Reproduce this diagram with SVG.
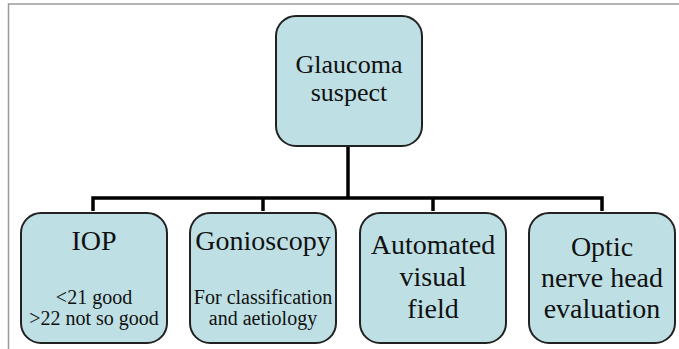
<svg xmlns="http://www.w3.org/2000/svg" width="679" height="349" viewBox="0 0 679 349">
<defs>
<rect id="box" width="146" height="130" rx="20" fill="#bee0e4" stroke="#222" stroke-width="2"/>
</defs>
<rect width="679" height="349" fill="#fff"/>
<path d="M8.5,349 V4 H679" fill="none" stroke="#9a9a9a" stroke-width="1.5"/>
<g id="connectors" fill="none" stroke="#000" stroke-width="3.5">
<path d="M348,146 V198"/>
<path d="M93,211 V198 H602 V211"/>
<path d="M263,198 V211"/>
<path d="M433,198 V211"/>
</g>
<g text-anchor="middle" fill="#111">
<g id="glaucoma-suspect">
<use href="#box" x="276" y="16"/>
<text x="349" y="73" font-family="Liberation Serif" font-size="26">Glaucoma</text>
<text x="349" y="101" font-family="Liberation Serif" font-size="26">suspect</text>
</g>
<g id="iop">
<use href="#box" x="21" y="213"/>
<text x="94" y="250" font-family="Liberation Serif" font-size="28">IOP</text>
<text x="94" y="304" font-family="Liberation Serif" font-size="20">&lt;21 good</text>
<text x="94" y="325" font-family="Liberation Serif" font-size="20">&gt;22 not so good</text>
</g>
<g id="gonioscopy">
<use href="#box" x="190" y="213"/>
<text x="263" y="250" font-family="Liberation Serif" font-size="28">Gonioscopy</text>
<text x="263" y="304" font-family="Liberation Serif" font-size="20">For classification</text>
<text x="263" y="325" font-family="Liberation Serif" font-size="20">and aetiology</text>
</g>
<g id="visual-field">
<use href="#box" x="360" y="213"/>
<text x="433" y="254" font-family="Liberation Serif" font-size="28">Automated</text>
<text x="433" y="286" font-family="Liberation Serif" font-size="28">visual</text>
<text x="433" y="318" font-family="Liberation Serif" font-size="28">field</text>
</g>
<g id="optic-nerve">
<use href="#box" x="529" y="213"/>
<text x="602" y="256" font-family="Liberation Serif" font-size="28">Optic</text>
<text x="602" y="287" font-family="Liberation Serif" font-size="28">nerve head</text>
<text x="602" y="318" font-family="Liberation Serif" font-size="28">evaluation</text>
</g>
</g>
</svg>
